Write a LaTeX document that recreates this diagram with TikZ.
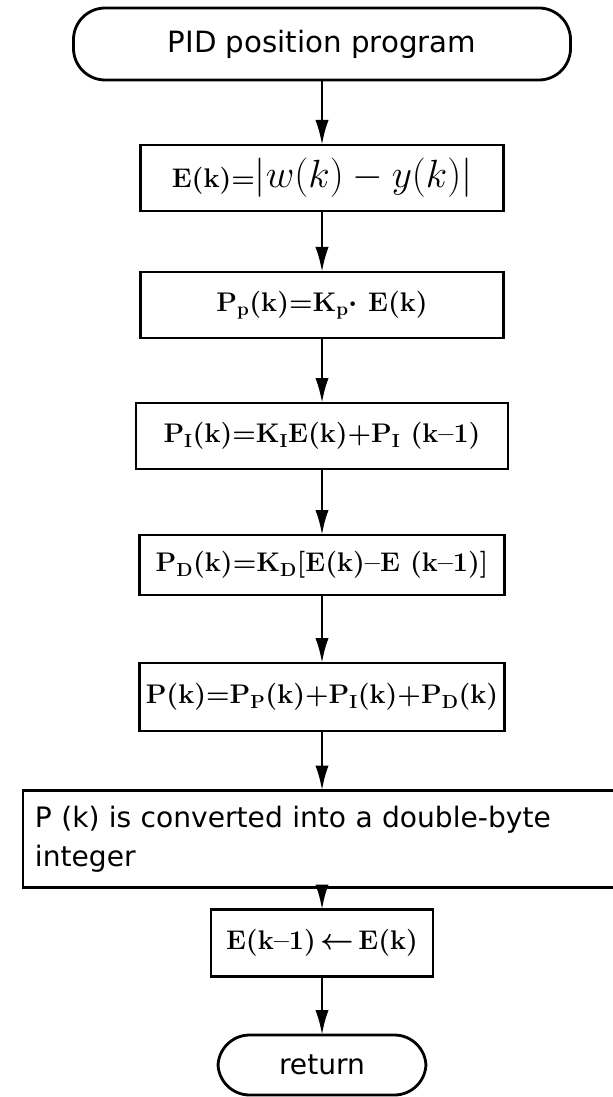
\documentclass[tikz,border=0pt]{standalone}
\usepackage{amsmath}
\usepackage{graphicx}
\usepackage{fontspec}
\usepackage{tikz}
\usetikzlibrary{positioning, shapes, arrows.meta, calc}
\newfontfamily\flowsans{DejaVu Sans}

\begin{document}
\begin{tikzpicture}[x=0.03cm, y=-0.03cm,
    procbox/.style={draw, rectangle, line width=2.4pt, inner sep=0pt, outer sep=0pt, font=\fontsize{23}{27}\selectfont\bfseries},
    termbox/.style={draw, rectangle, rounded corners=0.95cm, line width=2.4pt, inner sep=0pt, outer sep=0pt, font=\flowsans\fontsize{25}{30}\selectfont},
    flowarrow/.style={-{Latex[length=0.75cm, width=0.4cm]}, line width=2.2pt}]
  \useasboundingbox (0,0) rectangle (612,1097);

  \node[termbox, minimum width=14.91cm, minimum height=2.16cm] (start) at (322,44) {PID position program};
  \node[procbox, minimum width=10.89cm, minimum height=1.98cm] (b1) at (322,178)
    {E(k)=\scalebox{1.35}{\mdseries$\vert w(k)-y(k)\vert$}};
  \node[procbox, minimum width=10.89cm, minimum height=1.98cm] (b2) at (322,305)
    {P\textsubscript{p}(k)=K\textsubscript{p}$\boldsymbol{\cdot}$ E(k)};
  \node[procbox, minimum width=11.16cm, minimum height=1.98cm] (b3) at (322,436)
    {P\textsubscript{I}(k)=K\textsubscript{I}E(k)+P\textsubscript{I} (k\textendash1)};
  \node[procbox, minimum width=10.95cm, minimum height=1.8cm] (b4) at (322,565)
    {P\textsubscript{D}(k)=K\textsubscript{D}[E(k)\textendash E (k\textendash1)]};
  \node[procbox, minimum width=10.95cm, minimum height=2.04cm] (b5) at (322,697)
    {P(k)=P\textsubscript{P}(k)+P\textsubscript{I}(k)+P\textsubscript{D}(k)};
  \node[draw, rectangle, line width=2pt, outer sep=0pt, inner xsep=0.36cm, inner ysep=0pt,
        text width=17.22cm, minimum height=2.91cm, align=left,
        font=\flowsans\fontsize{24}{33}\selectfont] (b6) at (322,839)
    {P (k) is converted into a double-byte\\integer};
  \node[procbox, minimum width=6.66cm, minimum height=2.01cm] (b7) at (322,943)
    {E(k\textendash1)\,$\boldsymbol{\leftarrow}$\,E(k)};
  \node[termbox, minimum width=6.24cm, minimum height=1.8cm, font=\flowsans\fontsize{24}{28}\selectfont] (ret) at (322,1065) {return};

  \draw[flowarrow] (start) -- (b1);
  \draw[flowarrow] (b1) -- (b2);
  \draw[flowarrow] (b2) -- (b3);
  \draw[flowarrow] (b3) -- (b4);
  \draw[flowarrow] (b4) -- (b5);
  \draw[flowarrow] (b5) -- (b6);
  \draw[flowarrow] (b6) -- (b7);
  \draw[flowarrow] (b7) -- (ret);
\end{tikzpicture}
\end{document}
